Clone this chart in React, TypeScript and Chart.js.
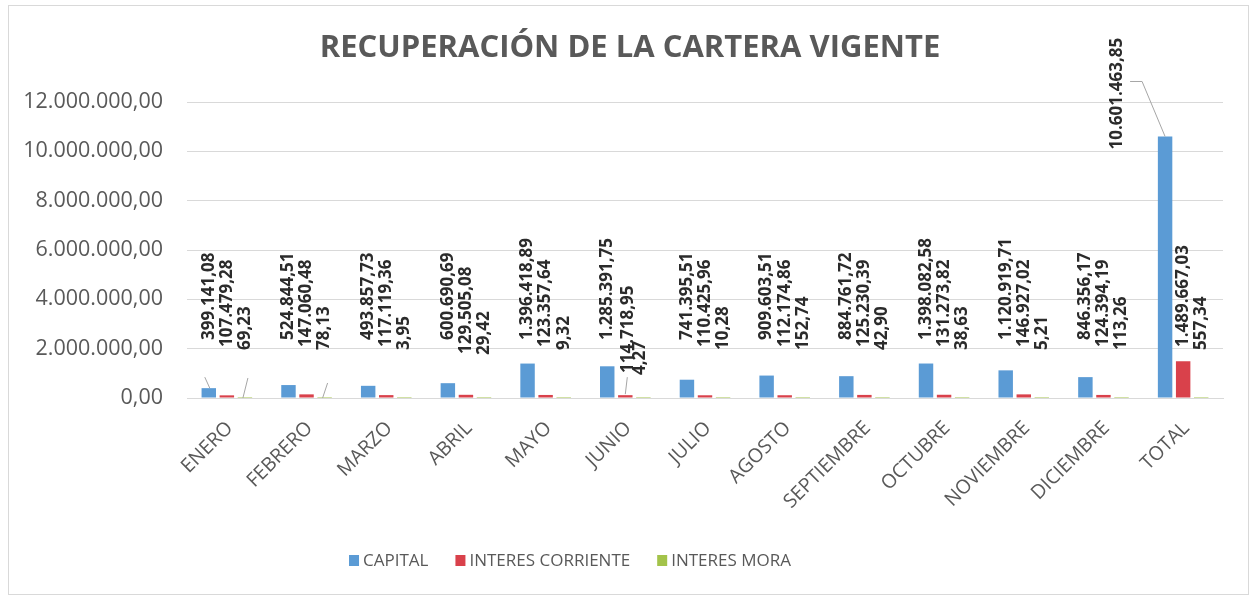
import React, { useEffect, useRef } from 'react';
import { Chart, registerables } from 'chart.js';

Chart.register(...registerables);

const TITLE = 'RECUPERACIÓN DE LA CARTERA VIGENTE';
const CATEGORIES = ['ENERO', 'FEBRERO', 'MARZO', 'ABRIL', 'MAYO', 'JUNIO', 'JULIO', 'AGOSTO', 'SEPTIEMBRE', 'OCTUBRE', 'NOVIEMBRE', 'DICIEMBRE', 'TOTAL'];
const CAPITAL = [399141.08, 524844.51, 493857.73, 600690.69, 1396418.89, 1285391.75, 741395.51, 909603.51, 884761.72, 1398082.58, 1120919.71, 846356.17, 10601463.85];
const INTERES_CORRIENTE = [107479.28, 147060.48, 117119.36, 129505.08, 123357.64, 114718.95, 110425.96, 112174.86, 125230.39, 131273.82, 146927.02, 124394.19, 1489667.03];
const INTERES_MORA = [69.23, 78.13, 3.95, 29.42, 9.32, 4.27, 10.28, 152.74, 42.9, 38.63, 5.21, 113.26, 557.34];
const SERIES_NAMES = ['CAPITAL', 'INTERES CORRIENTE', 'INTERES MORA'];
const Y_MIN = 0;
const Y_MAX = 12000000;
const Y_STEP = 2000000;

// styles
const COLORS = ['#5B9BD5', '#D9414B', '#A3C34A'];
const TEXT_GREY = '#595959';
const LABEL_COLOR = '#2b2b2b';
const FONT = '"Open Sans", "DejaVu Sans", sans-serif';

// data-label placement (style): distance of label start above the axis, per series
const LABEL_LIFT = [58, 51, 48];
// individual label adjustments: [series, index, dx, dy, relativeToBarTop]
const LABEL_ADJUST: [number, number, number, number, boolean][] = [
  [1, 3, 0, 7, false],
  [2, 3, 0, 5, false],
  [1, 5, 3, 26, false],
  [2, 5, -3, 25, false],
  [0, 12, -48, 13, true],
];
// leader lines: [series, index, points relative to bar top]
const LEADERS: [number, number, [number, number][]][] = [
  [0, 0, [[1, 0], [-4, -11]]],
  [2, 0, [[-2, 0], [3, -20]]],
  [2, 1, [[-2, 0], [3, -15]]],
  [1, 5, [[0, -1], [2, -18]]],
  [0, 12, [[0, 0], [-23, -55], [-35, -55]]],
];

function fmt(v: number): string {
  const [i, d] = v.toFixed(2).split('.');
  return i.replace(/\B(?=(\d{3})+(?!\d))/g, '.') + ',' + d;
}

const framePlugin = {
  id: 'frame',
  beforeDraw(chart: any) {
    const { ctx, width, height } = chart;
    ctx.save();
    ctx.fillStyle = '#ffffff';
    ctx.fillRect(0, 0, width, height);
    ctx.strokeStyle = '#d9d9d9';
    ctx.lineWidth = 1;
    ctx.strokeRect(8.5, 5.5, width - 16, height - 9);
    ctx.restore();
  },
  afterDraw(chart: any) {
    const { ctx, chartArea } = chart;
    ctx.save();
    // title
    ctx.fillStyle = TEXT_GREY;
    ctx.font = `bold 31px ${FONT}`;
    ctx.textAlign = 'center';
    ctx.textBaseline = 'middle';
    ctx.fillText(TITLE, 630, 48);
    // category labels, rotated 45°
    const xScale = chart.scales.x;
    ctx.font = `19.5px ${FONT}`;
    ctx.textAlign = 'right';
    ctx.textBaseline = 'middle';
    CATEGORIES.forEach((c, i) => {
      const tx = xScale.getPixelForTick(i);
      ctx.save();
      ctx.translate(tx + 3, chartArea.bottom + 27);
      ctx.rotate(-Math.PI / 4);
      ctx.fillText(c, 0, 0);
      ctx.restore();
    });
    // legend
    ctx.font = `17px ${FONT}`;
    ctx.textAlign = 'left';
    const box = 10;
    const gapBox = 4;
    const gapItem = 27;
    const widths = SERIES_NAMES.map((n) => ctx.measureText(n).width);
    const total = widths.reduce((a, w) => a + box + gapBox + w, 0) + gapItem * (SERIES_NAMES.length - 1);
    let x = 570 - total / 2;
    const y = 560;
    SERIES_NAMES.forEach((n, i) => {
      ctx.fillStyle = COLORS[i];
      ctx.fillRect(x, y - 5, box, 11);
      ctx.fillStyle = TEXT_GREY;
      ctx.fillText(n, x + box + gapBox, y + 1);
      x += box + gapBox + widths[i] + gapItem;
    });
    ctx.restore();
  },
  afterDatasetsDraw(chart: any) {
    const { ctx, chartArea } = chart;
    ctx.save();
    // leader lines
    ctx.strokeStyle = '#a6a6a6';
    ctx.lineWidth = 1;
    LEADERS.forEach(([ds, idx, pts]) => {
      const bar = chart.getDatasetMeta(ds).data[idx];
      if (!bar) return;
      ctx.beginPath();
      pts.forEach(([dx, dy], k) => {
        const px = bar.x + dx;
        const py = bar.y + dy;
        if (k === 0) ctx.moveTo(px, py);
        else ctx.lineTo(px, py);
      });
      ctx.stroke();
    });
    // data labels
    ctx.fillStyle = LABEL_COLOR;
    ctx.font = `bold 17px ${FONT}`;
    ctx.textAlign = 'left';
    ctx.textBaseline = 'middle';
    chart.data.datasets.forEach((dataset: any, ds: number) => {
      const meta = chart.getDatasetMeta(ds);
      meta.data.forEach((bar: any, idx: number) => {
        let x = bar.x;
        let y = chartArea.bottom - LABEL_LIFT[ds];
        const adj = LABEL_ADJUST.find((a) => a[0] === ds && a[1] === idx);
        if (adj) {
          x += adj[2];
          y = adj[4] ? bar.y + adj[3] : y + adj[3];
        }
        ctx.save();
        ctx.translate(x, y);
        ctx.rotate(-Math.PI / 2);
        ctx.fillText(fmt(dataset.data[idx]), 0, 0);
        ctx.restore();
      });
    });
    ctx.restore();
  },
};

export default function App() {
  const ref = useRef<HTMLCanvasElement | null>(null);
  useEffect(() => {
    if (!ref.current) return;
    const chart = new Chart(ref.current, {
      type: 'bar',
      data: {
        labels: CATEGORIES,
        datasets: [
          { label: SERIES_NAMES[0], data: CAPITAL, backgroundColor: COLORS[0] },
          { label: SERIES_NAMES[1], data: INTERES_CORRIENTE, backgroundColor: COLORS[1] },
          { label: SERIES_NAMES[2], data: INTERES_MORA, backgroundColor: COLORS[2] },
        ],
      },
      options: {
        responsive: false,
        animation: false,
        devicePixelRatio: 1,
        layout: { padding: { left: 0, right: 33, top: 102, bottom: 0 } },
        datasets: { bar: { categoryPercentage: 0.68, barPercentage: 0.8 } },
        plugins: {
          legend: { display: false },
          title: { display: false },
          tooltip: { enabled: false },
        },
        scales: {
          x: {
            grid: { display: false, drawTicks: false },
            border: { display: true, color: '#d9d9d9' },
            ticks: { display: false },
            afterFit(s: any) {
              s.height = 200;
            },
          },
          y: {
            min: Y_MIN,
            max: Y_MAX,
            grid: { color: '#d9d9d9', drawTicks: false },
            border: { display: false },
            ticks: {
              stepSize: Y_STEP,
              padding: 24,
              color: TEXT_GREY,
              font: { family: FONT, size: 21.5 },
              callback: (v: any) => fmt(Number(v)),
            },
            afterFit(s: any) {
              s.width = 187;
            },
          },
        },
      },
      plugins: [framePlugin],
    });
    return () => chart.destroy();
  }, []);
  return (
    <div style={{ position: 'absolute', left: 0, top: 0, width: 1256, height: 598, background: '#fff' }}>
      <canvas ref={ref} width={1256} height={598} style={{ display: 'block' }} />
    </div>
  );
}
